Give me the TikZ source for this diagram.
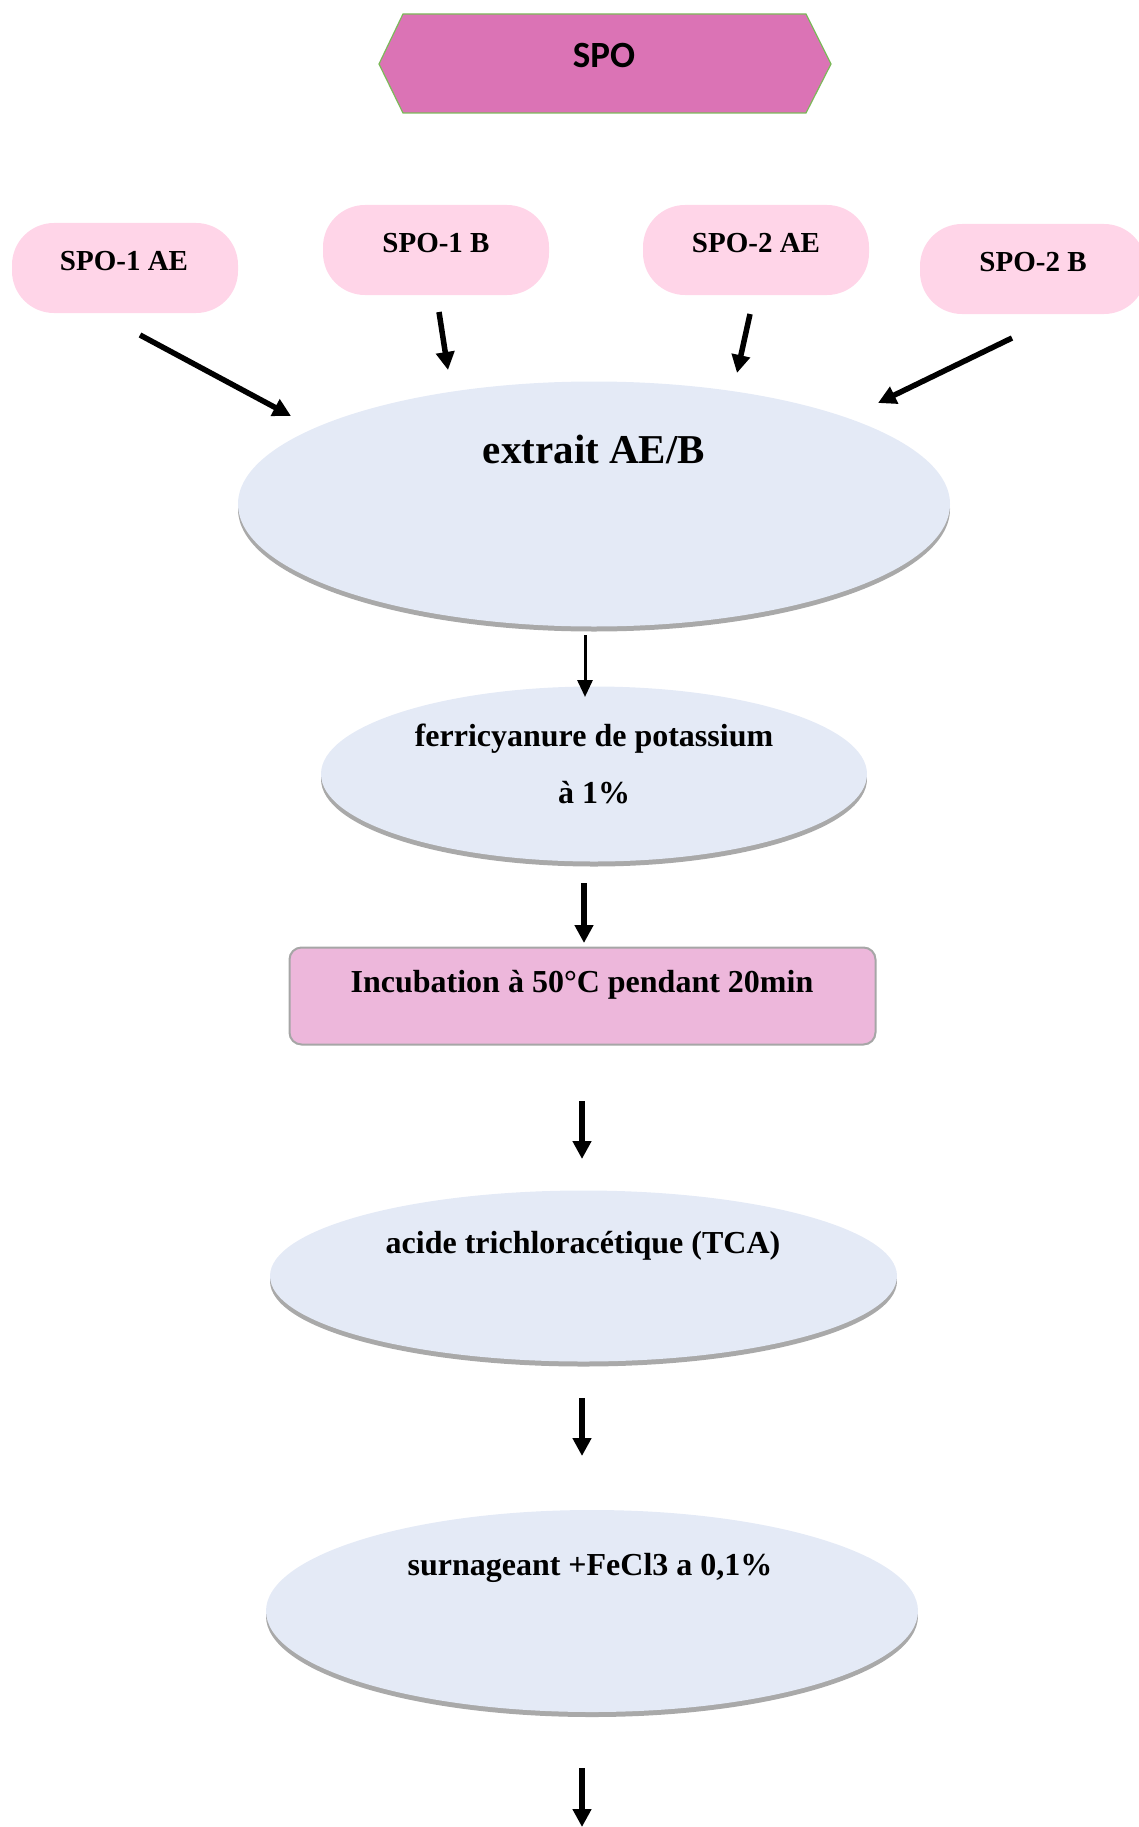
\documentclass[tikz,border=0pt]{standalone}
\usepackage{fontspec}
\setmainfont{Liberation Serif}
\newfontfamily\calib{Carlito}
\usetikzlibrary{shapes.geometric,shadows,calc,arrows.meta}
\definecolor{hexfill}{HTML}{DB73B5}
\definecolor{hexborder}{HTML}{7CB95A}
\definecolor{pillfill}{HTML}{FFD5E8}
\definecolor{ellfill}{HTML}{E4EAF6}
\definecolor{shadowgray}{HTML}{A9A9A9}
\definecolor{incfill}{HTML}{EDB7DB}
\definecolor{incborder}{HTML}{A6A6A6}
\begin{document}
\begin{tikzpicture}[x=1pt,y=-1pt,
  pill/.style={fill=pillfill, rounded corners=42pt, minimum width=226pt, minimum height=90pt, inner sep=0pt},
  oval/.style={ellipse, fill=ellfill, inner sep=0pt,
    drop shadow={shadow xshift=0pt, shadow yshift=-5pt, fill=shadowgray, opacity=1}},
  lbl/.style={anchor=base, inner sep=0pt, font=\bfseries\fontsize{32}{32}\selectfont},
  slbl/.style={anchor=base, inner sep=0pt, font=\bfseries\fontsize{29}{29}\selectfont},
  arr/.style={line width=5.5pt, -{Triangle[length=18pt,width=18pt]}},
  thinarr/.style={line width=3pt, -{Triangle[length=17pt,width=15pt]}},
]
\useasboundingbox (0,0) rectangle (1138,1827);

% SPO hexagon
\coordinate (h1) at (379,64);
\coordinate (h2) at (403,14);
\coordinate (h3) at (806,14);
\coordinate (h4) at (831,64);
\coordinate (h5) at (806,113);
\coordinate (h6) at (403,113);
\draw[fill=hexfill, draw=hexborder, line width=1.2pt] (h1) -- (h2) -- (h3) -- (h4) -- (h5) -- (h6) -- cycle;
\node[anchor=base, inner sep=0pt, font=\calib\bfseries\fontsize{37}{37}\selectfont] (spo) at (604,68) {SPO};

% pills
\node[pill] (p1) at (125,268) {};
\node[pill] (p2) at (436,250) {};
\node[pill] (p3) at (756,250) {};
\node[pill] (p4) at (1033,269) {};
\node[slbl] (t1) at (124,270) {SPO-1 AE};
\node[slbl] (t2) at (436,253) {SPO-1 B};
\node[slbl] (t3) at (756,253) {SPO-2 AE};
\node[slbl] (t4) at (1033,271) {SPO-2 B};

% big ellipse
\node[oval, minimum width=712pt, minimum height=245pt] (ext) at (594,504) {};
\node[anchor=base, inner sep=0pt, font=\bfseries\fontsize{41}{41}\selectfont] (text) at (594,463) {extrait AE/B};

% ferricyanure
\node[oval, minimum width=546pt, minimum height=175pt] (ferr) at (594,774) {};
\node[lbl] (tf1) at (594,746) {ferricyanure de potassium};
\node[lbl] (tf2) at (594,803) {à 1\%};

% incubation
\node[draw=incborder, line width=2pt, fill=incfill, rounded corners=12pt, minimum width=586pt, minimum height=97pt, inner sep=0pt] (inc) at (582.5,996) {};
\node[lbl] (ti) at (582,992) {Incubation à 50°C pendant 20min};

% TCA
\node[oval, minimum width=627pt, minimum height=171pt] (tca) at (583.5,1276) {};
\node[lbl] (tt) at (583,1253) {acide trichloracétique (TCA)};

% surnageant
\node[oval, minimum width=652pt, minimum height=202pt] (sur) at (592,1611) {};
\node[lbl] (ts) at (590,1575) {surnageant +FeCl3 a 0,1\%};

\coordinate (endc) at (582,1827);

% arrows
\draw[arr] ($(p1)+(15,67)$) -- ($(ext)+(-303,-88)$);
\draw[arr] ($(p2)+(3,62)$) -- ($(ext)+(-146,-134)$);
\draw[arr] ($(p3)+(-6,64)$) -- ($(ext)+(143,-131)$);
\draw[arr] ($(p4)+(-21,69)$) -- ($(ext)+(284,-101)$);
\draw[thinarr] ($(ext)+(-9,131)$) -- ($(ferr)+(-9,-77)$);
\draw[arr] ($(ferr)+(-10,109)$) -- ($(inc)+(1.5,-53)$);
\draw[arr] ($(inc)+(-0.5,105)$) -- ($(tca)+(-1.5,-117)$);
\draw[arr] ($(tca)+(-1.5,122)$) -- ($(sur)+(-10,-155)$);
\draw[arr] ($(sur)+(-10,157)$) -- (endc);
\end{tikzpicture}
\end{document}
